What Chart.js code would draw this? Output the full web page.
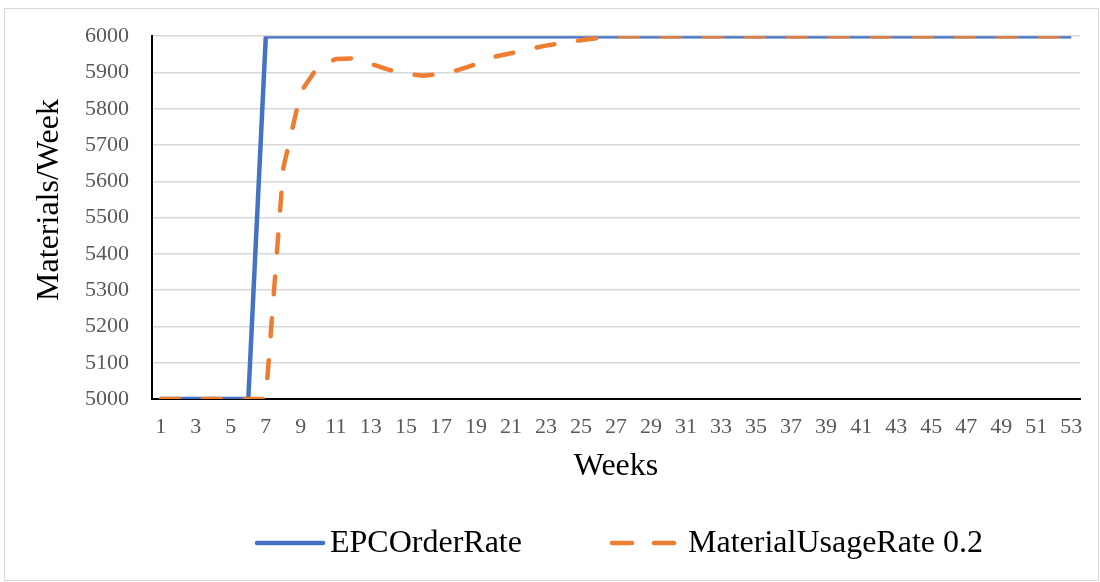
<!DOCTYPE html>
<html>
<head>
<meta charset="utf-8">
<script src="https://cdn.jsdelivr.net/npm/chart.js@4.4.1/dist/chart.umd.min.js"></script>
<style>
  html, body { margin: 0; padding: 0; background: #ffffff; }
  #wrap { position: relative; width: 1100px; height: 582px; }
  canvas { display: block; }
</style>
</head>
<body>
<div id="wrap"><canvas id="chart" width="1100" height="582"></canvas></div>
<script>
// Weeks on the category axis
const weeks = [
  1, 2, 3, 4, 5, 6, 7, 8, 9, 10, 11, 12, 13, 14, 15, 16, 17, 18, 19, 20,
  21, 22, 23, 24, 25, 26, 27, 28, 29, 30, 31, 32, 33, 34, 35, 36, 37, 38, 39, 40,
  41, 42, 43, 44, 45, 46, 47, 48, 49, 50, 51, 52, 53
];

// EPC order rate (materials per week)
const epcOrderRate = [
  5000, 5000, 5000, 5000, 5000, 5000, 6000, 6000, 6000, 6000,
  6000, 6000, 6000, 6000, 6000, 6000, 6000, 6000, 6000, 6000,
  6000, 6000, 6000, 6000, 6000, 6000, 6000, 6000, 6000, 6000,
  6000, 6000, 6000, 6000, 6000, 6000, 6000, 6000, 6000, 6000,
  6000, 6000, 6000, 6000, 6000, 6000, 6000, 6000, 6000, 6000,
  6000, 6000, 6000
];

// Material usage rate with adjustment factor 0.2
const materialUsageRate = [
  5000, 5000, 5000, 5000, 5000, 5000, 5000, 5637, 5846, 5918,
  5937, 5939, 5924, 5908, 5896, 5891, 5896, 5907, 5923, 5943,
  5953, 5964, 5974, 5982, 5989, 5995, 6000, 6000, 6000, 6000,
  6000, 6000, 6000, 6000, 6000, 6000, 6000, 6000, 6000, 6000,
  6000, 6000, 6000, 6000, 6000, 6000, 6000, 6000, 6000, 6000,
  6000, 6000, 6000
];

const seriesNames = ["EPCOrderRate", "MaterialUsageRate 0.2"];
const xTitle = "Weeks";
const yTitle = "Materials/Week";

const BLUE = "#4472C4";
const ORANGE = "#ED7D31";
const SERIF = "'Liberation Serif', 'Times New Roman', serif";

// Frame, axis titles and legend drawn around the plot
const decorations = {
  id: "decorations",
  beforeDraw(chart) {
    const ctx = chart.ctx;
    ctx.save();
    ctx.fillStyle = "#ffffff";
    ctx.fillRect(0, 0, chart.width, chart.height);
    ctx.strokeStyle = "#d9d9d9";
    ctx.lineWidth = 1;
    ctx.strokeRect(4.5, 8.5, 1094, 572);
    ctx.restore();
  },
  afterDraw(chart) {
    const ctx = chart.ctx;
    const area = chart.chartArea;
    ctx.save();
    ctx.fillStyle = "#000000";
    ctx.font = "32px " + SERIF;
    ctx.textBaseline = "middle";

    // x axis title
    ctx.textAlign = "center";
    ctx.fillText(xTitle, (area.left + area.right) / 2, 467);

    // y axis title
    ctx.save();
    ctx.translate(50, 200);
    ctx.rotate(-Math.PI / 2);
    ctx.fillText(yTitle, 0, 0);
    ctx.restore();

    // legend
    const ly = 543;
    ctx.textAlign = "left";
    ctx.lineWidth = 4.5;
    ctx.strokeStyle = BLUE;
    ctx.lineCap = "round";
    ctx.beginPath();
    ctx.moveTo(257, ly);
    ctx.lineTo(323, ly);
    ctx.stroke();
    ctx.fillText(seriesNames[0], 330, ly + 1);

    ctx.strokeStyle = ORANGE;
    ctx.beginPath();
    ctx.moveTo(612, ly);
    ctx.lineTo(632, ly);
    ctx.moveTo(654, ly);
    ctx.lineTo(674, ly);
    ctx.stroke();
    ctx.fillText(seriesNames[1], 688, ly + 1);
    ctx.restore();
  }
};

new Chart(document.getElementById("chart"), {
  type: "line",
  data: {
    labels: weeks,
    datasets: [
      {
        label: seriesNames[0],
        data: epcOrderRate,
        borderColor: BLUE,
        backgroundColor: BLUE,
        borderWidth: 4.5,
        borderJoinStyle: "miter",
        borderCapStyle: "butt",
        pointRadius: 0,
        tension: 0,
        order: 2
      },
      {
        label: seriesNames[1],
        data: materialUsageRate,
        borderColor: ORANGE,
        backgroundColor: ORANGE,
        borderWidth: 4.5,
        borderDash: [18, 24],
        borderCapStyle: "round",
        borderJoinStyle: "round",
        pointRadius: 0,
        tension: 0,
        order: 1
      }
    ]
  },
  options: {
    responsive: false,
    animation: false,
    devicePixelRatio: 1,
    layout: { padding: { left: 0, top: 35, right: 20, bottom: 0 } },
    plugins: {
      legend: { display: false },
      tooltip: { enabled: false },
      title: { display: false }
    },
    scales: {
      x: {
        type: "category",
        offset: true,
        grid: { display: false, drawTicks: false },
        border: { display: true, color: "#000000", width: 2 },
        ticks: {
          autoSkip: false,
          maxRotation: 0,
          minRotation: 0,
          padding: 15,
          color: "#595959",
          font: { family: SERIF, size: 22 },
          callback: function (value, index) {
            return index % 2 === 0 ? this.getLabelForValue(value) : "";
          }
        },
        afterFit(scale) { scale.height = 183; }
      },
      y: {
        min: 5000,
        max: 6000,
        grid: {
          drawTicks: false,
          lineWidth: 1.5,
          color: (c) => (c.tick && c.tick.value === 5000 ? "rgba(0,0,0,0)" : "#d9d9d9")
        },
        border: { display: true, color: "#000000", width: 2 },
        ticks: {
          stepSize: 100,
          padding: 23,
          color: "#595959",
          font: { family: SERIF, size: 22 },
          callback: (value) => String(value)
        },
        afterFit(scale) { scale.width = 152; }
      }
    }
  },
  plugins: [decorations]
});
</script>
</body>
</html>
